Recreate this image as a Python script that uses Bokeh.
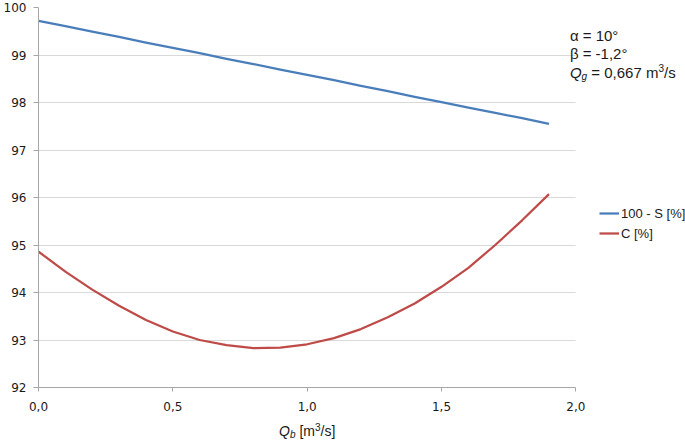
from bokeh.plotting import figure
from bokeh.layouts import column
from bokeh.models import (Range1d, Label, Legend, LegendItem, FixedTicker,
                          CustomJSTickFormatter, ColumnDataSource)
from bokeh.embed import file_html
from bokeh.resources import INLINE

# ---- data ----
qb = [0.0, 0.1, 0.2, 0.3, 0.4, 0.5, 0.6, 0.7, 0.8, 0.9,
      1.0, 1.1, 1.2, 1.3, 1.4, 1.5, 1.6, 1.7, 1.8, 1.9]
s100 = [99.72, 99.61, 99.49, 99.38, 99.26, 99.15, 99.04, 98.92, 98.81, 98.69,
        98.58, 98.47, 98.35, 98.24, 98.12, 98.01, 97.89, 97.78, 97.67, 97.55]
c_vals = [94.86, 94.44, 94.06, 93.72, 93.42, 93.18, 93.00, 92.89, 92.83, 92.84,
          92.91, 93.04, 93.23, 93.48, 93.77, 94.12, 94.52, 95.00, 95.52, 96.07]
series_names = ["100 - S [%]", "C [%]"]
x_ticks = [0.0, 0.5, 1.0, 1.5, 2.0]
y_ticks = [92, 93, 94, 95, 96, 97, 98, 99, 100]

FONT = "Liberation Sans"
TICKFONT = "DejaVu Sans"
BLUE = "#4a7ebb"
RED = "#be4b48"
AXIS = "#a6a6a6"
TXT = "#1a1a1a"
NB = "\u00a0"  # non-breaking space (leading spaces are otherwise collapsed)

src = ColumnDataSource(dict(qb=qb, s100=s100, c=c_vals))

# frame extends to the right edge so that the legend / notes are not clipped;
# axis and grid are bounded to the data area 0..2
xr = Range1d(0, 2.408)
p = figure(width=685, height=418, output_backend="svg", toolbar_location=None,
           x_range=xr, y_range=Range1d(92, 100),
           min_border_left=36, min_border_right=0,
           min_border_top=7, min_border_bottom=31)
p.outline_line_color = None
p.background_fill_color = "white"
p.border_fill_color = "white"

r1 = p.line("qb", "s100", source=src, line_color=BLUE, line_width=2.25,
            line_join="round")
r2 = p.line("qb", "c", source=src, line_color=RED, line_width=2.25,
            line_join="round")

# axes
for ax in (p.xaxis[0], p.yaxis[0]):
    ax.axis_line_color = AXIS
    ax.major_tick_line_color = AXIS
    ax.minor_tick_line_color = None
    ax.major_tick_in = 0
    ax.major_tick_out = 5
    ax.major_label_text_font = TICKFONT
    ax.major_label_text_font_size = "12px"
    ax.major_label_text_color = TXT
p.yaxis[0].major_label_standoff = 7
p.xaxis[0].major_tick_out = 4
p.xaxis[0].major_label_standoff = 10
p.xaxis[0].bounds = (0, 2)
p.xaxis[0].ticker = FixedTicker(ticks=x_ticks)
p.yaxis[0].ticker = FixedTicker(ticks=y_ticks)
p.xaxis[0].formatter = CustomJSTickFormatter(
    code="return tick.toFixed(1).replace('.', ',');")

p.xgrid.grid_line_color = None
p.ygrid.grid_line_color = "#d9d9d9"
p.ygrid.grid_line_width = 1
p.ygrid.cross_bounds = (0, 2)

# legend
legend = Legend(items=[LegendItem(label=series_names[0], renderers=[r1]),
                       LegendItem(label=series_names[1], renderers=[r2])],
                location=(561, 144), orientation="vertical",
                border_line_color=None, background_fill_alpha=0,
                padding=0, margin=0, spacing=0,
                glyph_width=20, glyph_height=20, label_height=20,
                label_standoff=2,
                label_text_font=FONT, label_text_font_size="13px",
                label_text_color=TXT)
p.add_layout(legend, "center")

# Arial-like advance widths (per em)
W = {" ": .278, NB: .278, "=": .584, ",": .278, "m": .833, "/": .278, "s": .5,
     "[": .278, "]": .278, "Q": .778, "g": .556, "b": .556, "%": .889,
     "-": .333, "°": .4}
def width(t, size):
    return sum(W.get(ch, .556) for ch in t) * size

def rich(fig, segments, ax, ay, x0, y0):
    """segments: (text, size, italic, dy); placed left to right from offset x0."""
    x = x0
    for text, size, italic, dy in segments:
        fig.add_layout(Label(x=ax, y=ay, x_offset=x, y_offset=y0 + dy, text=text,
                             text_font=FONT, text_font_size=f"{size}px",
                             text_font_style="italic" if italic else "normal",
                             text_color=TXT, text_baseline="middle",
                             text_align="left"))
        x += width(text, size)

# annotations (top right)
rich(p, [("α = 10°", 15, False, 0)], 2.0, 100, -6, -28)
rich(p, [("β = -1,2°", 15, False, 0)], 2.0, 100, -6, -46)
rich(p, [("Q", 15, True, 0), ("g", 10, True, -4), (NB + "= 0,667 m", 15, False, 0),
         ("3", 10, False, 5), ("/s", 15, False, 0)], 2.0, 100, -6, -65)

# strip below the chart holding the x-axis title Q_b [m^3/s]
p2 = figure(width=685, height=23, output_backend="svg", toolbar_location=None,
            x_range=xr, y_range=Range1d(0, 23),
            x_axis_type=None, y_axis_type=None,
            min_border_left=36, min_border_right=0,
            min_border_top=0, min_border_bottom=0)
p2.outline_line_color = None
p2.grid.visible = False
p2.border_fill_color = "white"
xt = [("Q", 14, True, 0), ("b", 10, True, -4), (NB + "[m", 14, False, 0),
      ("3", 10, False, 4), ("/s]", 14, False, 0)]
tw = sum(width(t, s) for t, s, _, _ in xt)
rich(p2, xt, 1.0, 11, -tw / 2, 0)

layout = column(p, p2, spacing=0)
open("out.html", "w").write(file_html(layout, INLINE))
